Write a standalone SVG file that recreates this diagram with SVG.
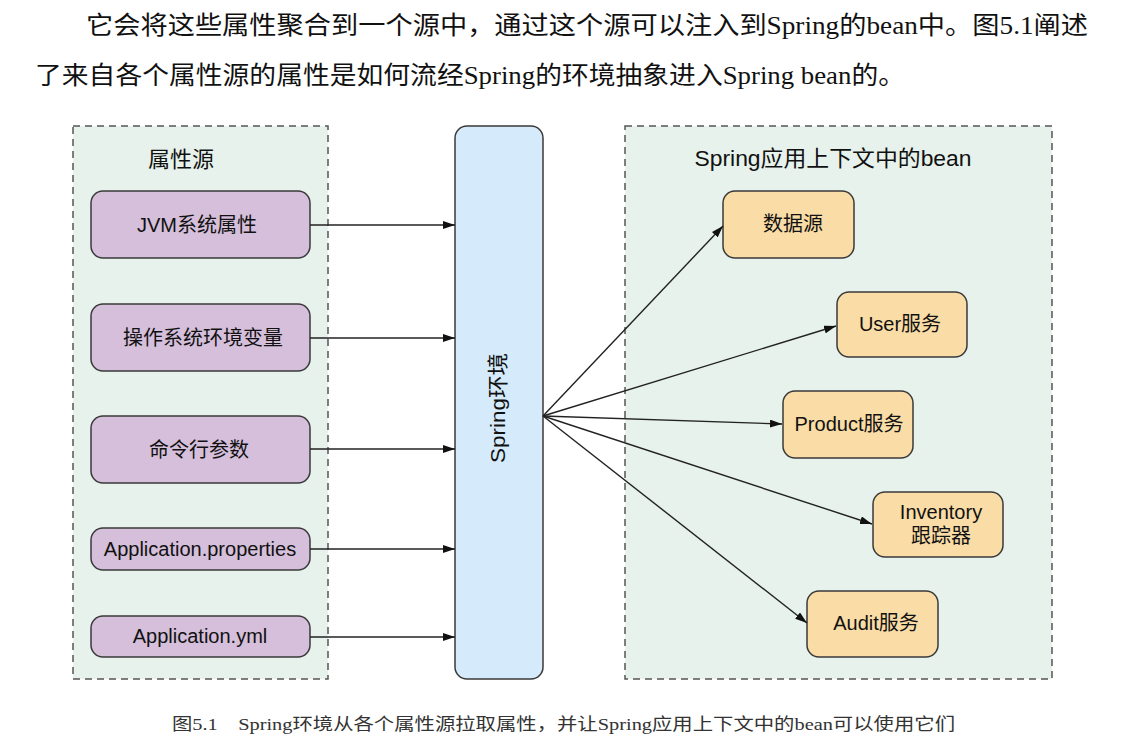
<svg xmlns="http://www.w3.org/2000/svg" width="1139" height="748" viewBox="0 0 1139 748">
<style>
.para{font-family:"Liberation Serif","Noto Sans CJK SC",serif;font-size:25px;fill:#111}
.cap{font-family:"Liberation Serif","Noto Sans CJK SC",serif;font-size:17px;fill:#333}
.cont{fill:#e6f2eb;stroke:#555;stroke-width:1.5;stroke-dasharray:7 5}
.src{fill:#d5bfdb;stroke:#3a3a3a;stroke-width:1.5}
.bean{fill:#fadca6;stroke:#3a3a3a;stroke-width:1.5}
.env{fill:#d5ebfb;stroke:#3a3a3a;stroke-width:1.5}
.t{font-family:"Liberation Sans","Noto Sans CJK SC",sans-serif;font-size:20px;fill:#111;text-anchor:middle}
.h{font-family:"Liberation Sans","Noto Sans CJK SC",sans-serif;font-size:22px;fill:#111;text-anchor:middle}
.c{stroke:#222;stroke-width:1.4;fill:none;marker-end:url(#ah)}
</style>
<defs>
<marker id="ah" viewBox="0 0 12 8" refX="12" refY="4" markerWidth="12" markerHeight="8" markerUnits="userSpaceOnUse" orient="auto">
<path d="M0,0 L12,4 L0,8 Z" fill="#111"/>
</marker>
</defs>
<rect width="1139" height="748" fill="#fff"/>
<g id="paragraph">
<text class="para" x="86" y="34" textLength="1002" lengthAdjust="spacingAndGlyphs">它会将这些属性聚合到一个源中，通过这个源可以注入到Spring的bean中。图5.1阐述</text>
<text class="para" x="35" y="84" textLength="870" lengthAdjust="spacingAndGlyphs">了来自各个属性源的属性是如何流经Spring的环境抽象进入Spring bean的。</text>
</g>
<g id="sources-container">
<rect class="cont" x="73" y="126" width="255" height="553"/>
<text class="h" x="181" y="167">属性源</text>
</g>
<g id="beans-container">
<rect class="cont" x="625" y="126" width="427" height="553"/>
<text class="h" x="833" y="166" textLength="277" lengthAdjust="spacingAndGlyphs">Spring应用上下文中的bean</text>
</g>
<g id="src-jvm"><rect class="src" x="91" y="191" width="219" height="67" rx="12"/><text class="t" x="197" y="232">JVM系统属性</text></g>
<g id="src-os"><rect class="src" x="91" y="304" width="219" height="67" rx="12"/><text class="t" x="203" y="345">操作系统环境变量</text></g>
<g id="src-cmd"><rect class="src" x="91" y="416" width="219" height="67" rx="12"/><text class="t" x="199" y="457">命令行参数</text></g>
<g id="src-props"><rect class="src" x="91" y="528" width="219" height="42" rx="12"/><text class="t" x="200" y="556">Application.properties</text></g>
<g id="src-yml"><rect class="src" x="91" y="616" width="219" height="41" rx="12"/><text class="t" x="200" y="643">Application.yml</text></g>
<g id="spring-env"><rect class="env" x="455" y="126" width="88" height="553" rx="12"/><text class="t" style="font-size:21px" transform="translate(505,408) rotate(-90)" textLength="110" lengthAdjust="spacingAndGlyphs">Spring环境</text></g>
<g id="bean-ds"><rect class="bean" x="723" y="191" width="131" height="67" rx="12"/><text class="t" x="793" y="231">数据源</text></g>
<g id="bean-user"><rect class="bean" x="837" y="292" width="130" height="65" rx="12"/><text class="t" x="900" y="331">User服务</text></g>
<g id="bean-product"><rect class="bean" x="783" y="391" width="130" height="67" rx="12"/><text class="t" x="849" y="431">Product服务</text></g>
<g id="bean-inventory"><rect class="bean" x="873" y="492" width="130" height="65" rx="12"/><text class="t" x="941" y="519">Inventory</text><text class="t" x="941" y="543">跟踪器</text></g>
<g id="bean-audit"><rect class="bean" x="807" y="591" width="131" height="66" rx="12"/><text class="t" x="876" y="630">Audit服务</text></g>
<g id="connectors">
<line class="c" x1="310" y1="225" x2="455" y2="225"/>
<line class="c" x1="310" y1="338" x2="455" y2="338"/>
<line class="c" x1="310" y1="449" x2="455" y2="449"/>
<line class="c" x1="310" y1="549" x2="455" y2="549"/>
<line class="c" x1="310" y1="637" x2="455" y2="637"/>
<line class="c" x1="543" y1="416" x2="723" y2="226"/>
<line class="c" x1="543" y1="416" x2="836" y2="326"/>
<line class="c" x1="543" y1="416" x2="782" y2="424"/>
<line class="c" x1="543" y1="416" x2="872" y2="524"/>
<line class="c" x1="543" y1="416" x2="807" y2="623"/>
</g>
<g id="caption">
<text class="cap" x="172" y="730" textLength="783" lengthAdjust="spacingAndGlyphs">图5.1　Spring环境从各个属性源拉取属性，并让Spring应用上下文中的bean可以使用它们</text>
</g>
</svg>
